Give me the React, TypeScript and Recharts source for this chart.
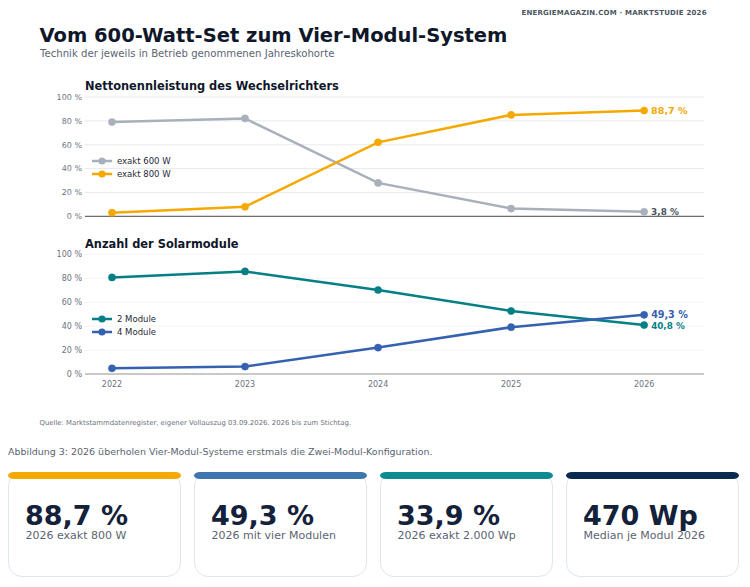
import { LineChart, Line, XAxis, YAxis, CartesianGrid, Legend } from 'recharts';

const years = [2022, 2023, 2024, 2025, 2026];
const exakt600 = [79, 82, 28, 6.5, 3.8];
const exakt800 = [3, 8, 62, 85, 88.7];
const module2 = [80.5, 85.5, 70, 52.5, 40.8];
const module4 = [4.7, 6.2, 22, 39, 49.3];
const yTicks = [0, 20, 40, 60, 80, 100];

const cardValues = ['88,7 %', '49,3 %', '33,9 %', '470 Wp'];
const cardLabels = ['2026 exakt 800 W', '2026 mit vier Modulen', '2026 exakt 2.000 Wp', 'Median je Modul 2026'];
const cardColors = ['#f5a800', '#3f76ad', '#0e8a92', '#0b2a4f'];

const FONT = '"DejaVu Sans", sans-serif';
const GREY = '#a8b0bc';
const ORANGE = '#f5a800';
const TEAL = '#047f86';
const BLUE = '#3461b0';

const powerData = years.map((year, i) => ({ year, a: exakt600[i], b: exakt800[i] }));
const moduleData = years.map((year, i) => ({ year, a: module2[i], b: module4[i] }));

const formatDe = (v: number) => `${v.toFixed(1).replace('.', ',')} %`;

// value label only on the last point of a line
const endLabel = (color: string, size: number) => (props: any) => {
  if (props.index !== years.length - 1) return null;
  return (
    <text x={props.x + 7} y={props.y + 3.5} fill={color} fontSize={size} fontWeight="bold" fontFamily={FONT}>
      {formatDe(props.value)}
    </text>
  );
};

interface PanelProps {
  data: { year: number; a: number; b: number }[];
  names: string[];
  colors: string[];
  labelColors: string[];
  labelSizes: number[];
  top: number;
  height: number;
  showYears: boolean;
  axisColor: string;
  gridColor: string;
  legendTop: number;
}

function Panel({ data, names, colors, labelColors, labelSizes, top, height, showYears, axisColor, gridColor, legendTop }: PanelProps) {
  return (
    <div style={{ position: 'absolute', left: 0, top }}>
      <LineChart width={750} height={height} data={data} margin={{ top: 10, right: 46, left: 0, bottom: 0 }}>
        <CartesianGrid horizontal vertical={false} stroke={gridColor} />
        <XAxis
          dataKey="year"
          type="number"
          domain={[2021.797, 2026.45]}
          ticks={years}
          tick={showYears ? { fontSize: 8, fill: '#6b7280', fontFamily: FONT } : false}
          tickFormatter={(v) => String(v)}
          tickLine={false}
          tickSize={0}
          tickMargin={7}
          height={20}
          axisLine={{ stroke: axisColor, strokeWidth: 1 }}
        />
        <YAxis
          type="number"
          width={85}
          domain={[0, 100]}
          ticks={yTicks}
          tick={{ fontSize: 8, fill: '#6b7280', fontFamily: FONT }}
          tickFormatter={(v) => `${v} %`}
          axisLine={false}
          tickLine={false}
          tickSize={0}
          tickMargin={3}
        />
        <Legend
          layout="vertical"
          align="center"
          verticalAlign="middle"
          wrapperStyle={{ left: 92, top: legendTop, width: 90 }}
          content={() => (
            <div style={{ fontFamily: FONT, fontSize: 8.5, color: '#1f2937' }}>
              {names.map((name, i) => (
                <div key={name} style={{ display: 'flex', alignItems: 'center', height: 12.5 }}>
                  <svg width={20} height={10} style={{ marginRight: 5 }}>
                    <line x1={0} x2={20} y1={5} y2={5} stroke={colors[i]} strokeWidth={2.5} />
                    <circle cx={10} cy={5} r={3.6} fill={colors[i]} />
                  </svg>
                  {name}
                </div>
              ))}
            </div>
          )}
        />
        {['a', 'b'].map((key, i) => (
          <Line
            key={key}
            dataKey={key}
            name={names[i]}
            stroke={colors[i]}
            strokeWidth={2.5}
            dot={{ r: 3.6, fill: colors[i], stroke: colors[i], strokeWidth: 0.5 }}
            label={endLabel(labelColors[i], labelSizes[i])}
            isAnimationActive={false}
          />
        ))}
      </LineChart>
    </div>
  );
}

function Txt({ x, y, size, color, bold, spacing, children }: any) {
  return (
    <div
      style={{
        position: 'absolute',
        left: x,
        top: y,
        fontSize: size,
        lineHeight: 1,
        color,
        fontWeight: bold ? 'bold' : 'normal',
        letterSpacing: spacing,
        whiteSpace: 'nowrap',
      }}
    >
      {children}
    </div>
  );
}

export default function App() {
  return (
    <div style={{ position: 'absolute', left: 0, top: 0, width: 750, height: 587, background: '#fff', fontFamily: FONT, overflow: 'hidden' }}>
      <Txt x={521.5} y={9.5} size={7} color="#4b5563" bold spacing={0.2}>ENERGIEMAGAZIN.COM · MARKTSTUDIE 2026</Txt>
      <Txt x={39.5} y={25.5} size={19.5} color="#0f172a" bold>Vom 600-Watt-Set zum Vier-Modul-System</Txt>
      <Txt x={40} y={49} size={10.15} color="#5b6472">Technik der jeweils in Betrieb genommenen Jahreskohorte</Txt>

      <Txt x={85} y={81} size={11.4} color="#0f172a" bold>Nettonennleistung des Wechselrichters</Txt>
      <Panel
        data={powerData}
        names={['exakt 600 W', 'exakt 800 W']}
        colors={[GREY, ORANGE]}
        labelColors={['#4b5563', ORANGE]}
        labelSizes={[8.9, 9.6]}
        top={87}
        height={149.3}
        showYears={false}
        axisColor="#4b4b4b"
        gridColor="#e8eaef"
        legendTop={68}
      />

      <Txt x={85} y={239} size={11.4} color="#0f172a" bold>Anzahl der Solarmodule</Txt>
      <Panel
        data={moduleData}
        names={['2 Module', '4 Module']}
        colors={[TEAL, BLUE]}
        labelColors={[TEAL, BLUE]}
        labelSizes={[8.8, 9.6]}
        top={244}
        height={150}
        showYears
        axisColor="#999999"
        gridColor="#f3f4f6"
        legendTop={69}
      />

      <Txt x={39.5} y={419.5} size={6.9} color="#6b7280">Quelle: Marktstammdatenregister, eigener Vollauszug 03.09.2026. 2026 bis zum Stichtag.</Txt>
      <Txt x={8} y={446.5} size={9.47} color="#5b6472">Abbildung 3: 2026 überholen Vier-Modul-Systeme erstmals die Zwei-Modul-Konfiguration.</Txt>

      {cardValues.map((value, i) => {
        const left = 8 + i * 186;
        return (
          <div key={value}>
            <div style={{ position: 'absolute', left, top: 472, width: 171, height: 103, border: '1.3px solid #e0e6ef', borderRadius: 14 }} />
            <div style={{ position: 'absolute', left, top: 472, width: 173, height: 7, background: cardColors[i], borderRadius: '6px / 3.5px' }} />
            <Txt x={left + 17} y={502} size={27} color="#14213a" bold>{value}</Txt>
            <Txt x={left + 17.5} y={529.5} size={11} color="#5b6472">{cardLabels[i]}</Txt>
          </div>
        );
      })}
    </div>
  );
}
